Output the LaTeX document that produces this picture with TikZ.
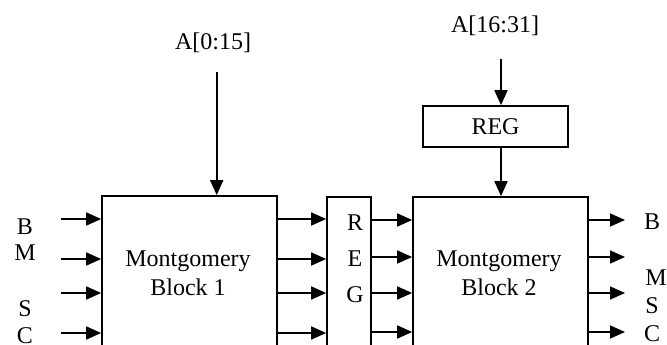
\documentclass[tikz,border=0pt]{standalone}
\usepackage{fontspec}
\setmainfont{Liberation Serif}
\usetikzlibrary{arrows.meta}
\begin{document}
\begin{tikzpicture}[x=1pt,y=-1pt,
  box/.style={draw, line width=1.7pt, inner sep=0pt},
  lbl/.style={inner sep=0pt, font=\fontsize{24}{29}\selectfont},
  sig/.style={line width=1.7pt, -{Triangle[length=15pt,width=13pt]}}]
\useasboundingbox (0,0) rectangle (667,345);
\clip (0,0) rectangle (667,345);
% blocks
\node[box, minimum width=175pt, minimum height=160pt] (b1) at (189.5,276) {};
\node[lbl, align=center] (t1) at (188,273) {Montgomery\\Block 1};
\node[box, minimum width=44pt, minimum height=160pt] (rv) at (349,277) {};
\node[inner sep=0pt, align=center, font=\fontsize{24}{36}\selectfont] (rvt) at (355,259) {R\\E\\G};
\node[box, minimum width=175pt, minimum height=160pt] (b2) at (500.5,277) {};
\node[lbl, align=center] (t2) at (499,273) {Montgomery\\Block 2};
\node[box, minimum width=145pt, minimum height=41pt, lbl] (reg) at (495.5,126.5) {REG};
% top labels
\node[lbl, anchor=base] (la) at (213,50) {A[0:15]};
\node[lbl, anchor=base] (lb) at (495,33) {A[16:31]};
\coordinate (a0) at (216.7,72);
\coordinate (a1) at (501,59);
\draw[sig] (a0) -- (a0 |- b1.north);
\draw[sig] (a1) -- (a1 |- reg.north);
\draw[sig] (a1 |- reg.south) -- (a1 |- b2.north);
% left inputs
\foreach \n/\y in {1/219,2/259,3/293,4/333}{
  \coordinate (i\n) at (61,\y);
  \draw[sig] (i\n) -- (i\n -| b1.west);
  \draw[sig] (i\n -| b1.east) -- (i\n -| rv.west);
}
\foreach \n/\y in {1/220,2/257,3/293,4/332}{
  \coordinate (r\n) at (625,\y);
  \draw[sig] (r\n -| rv.east) -- (r\n -| b2.west);
  \draw[sig] (r\n -| b2.east) -- (r\n);
}
% left labels
\node[lbl] (lB) at (25,227) {B};
\node[lbl] (lM) at (25,253) {M};
\node[lbl] (lS) at (25,309) {S};
\node[lbl] (lC) at (25,336) {C};
% right labels
\node[lbl] (rB) at (652,222) {B};
\node[lbl] (rM) at (656,278) {M};
\node[lbl] (rS) at (652,306) {S};
\node[lbl] (rC) at (652,334) {C};
\end{tikzpicture}
\end{document}
